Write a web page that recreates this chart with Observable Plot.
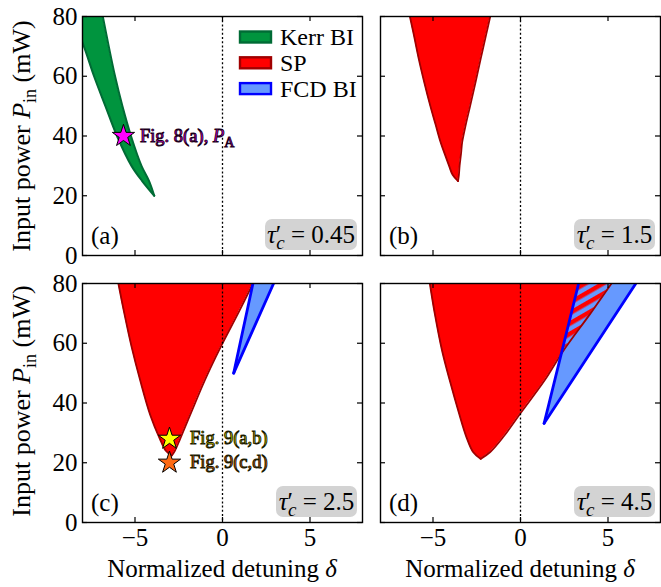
<!DOCTYPE html>
<html><head><meta charset="utf-8">
<script src="https://cdn.jsdelivr.net/npm/d3@7"></script>
<script src="https://cdn.jsdelivr.net/npm/@observablehq/plot@0.6"></script>
<style>
body{margin:0;background:#fff;}
#wrap{position:relative;width:661px;height:587px;overflow:hidden;font-family:"Liberation Serif","Times New Roman",Times,"DejaVu Serif",serif;}
#wrap > svg{position:absolute;}
#wrap svg, #wrap svg text{font-family:"Liberation Serif","Times New Roman",Times,"DejaVu Serif",serif !important;}
</style></head><body><div id="wrap"></div>
<script>
// ---------- data ----------
const xTicks = [-5, 0, 5];
const yTicks = [0, 20, 40, 60, 80];

// (a) Kerr bistability band, tau'c = 0.45
const kerrP     = [20, 25, 30, 40, 50, 60, 70, 80];
const kerrLeft  = [-3.9, -4.6, -5.2, -6.03, -6.69, -7.34, -7.92, -8.6];
const kerrRight = [-3.9, -4.2, -4.63, -5.23, -5.72, -6.14, -6.5, -6.84];

// (b) self-pulsing, tau'c = 1.5
const spBP     = [24.9, 27, 30, 34, 38, 44, 50, 58, 66, 74, 80];
const spBLeft  = [-3.57, -3.88, -4.08, -4.33, -4.57, -4.86, -5.15, -5.5, -5.82, -6.1, -6.32];
const spBRight = [-3.57, -3.52, -3.48, -3.40, -3.33, -3.12, -2.88, -2.57, -2.27, -1.96, -1.73];

// (c) self-pulsing + FCD bistability, tau'c = 2.5
const spCP     = [22.4, 24, 28, 36, 47.5, 58.7, 70, 80];
const spCLeft  = [-2.9, -3.24, -3.58, -4.13, -4.70, -5.19, -5.61, -5.95];
const spCRight = [-2.9, -2.72, -2.42, -1.85, -1.02, -0.11, 0.89, 1.74];
const fcdCP     = [50, 80];
const fcdCLeft  = [0.64, 1.74];
const fcdCRight = [0.64, 2.92];

// (d) self-pulsing + FCD bistability, tau'c = 4.5
const spDP     = [21.3, 23.6, 28.6, 36.9, 47.5, 57.5, 70, 80];
const spDLeft  = [-2.28, -2.71, -3.09, -3.53, -4.04, -4.48, -4.9, -5.18];
const spDRight = [-2.28, -1.73, -0.99, 0.04, 1.37, 2.45, 4.0, 5.2];
const fcdDP     = [33.2, 80];
const fcdDLeft  = [1.35, 3.32];
const fcdDRight = [1.35, 6.59];
const overlapDP     = [57.5, 63, 70, 80];
const overlapDLeft  = [2.42, 2.62, 2.9, 3.32];
const overlapDRight = [2.42, 3.13, 4.0, 5.2];

// marked operating points
const starsA = [{d: -5.66, P: 40, fill: "#ff00ff", label: "Fig. 8(a), ", sub: "A"}];
const starsC = [
  {d: -3.03, P: 28, fill: "#ffff00", label: "Fig. 9(a,b)"},
  {d: -3.03, P: 20, fill: "#ff6a13", label: "Fig. 9(c,d)"}
];
const tauLabels = ["0.45", "1.5", "2.5", "4.5"];
const panelLetters = ["(a)", "(b)", "(c)", "(d)"];
const legendItems = [
  {name: "Kerr BI", fill: "#00943e", stroke: "#006b35"},
  {name: "SP", fill: "#ff0000", stroke: "#a00000"},
  {name: "FCD BI", fill: "#6699ff", stroke: "#0000ff"}
];

// ---------- helpers ----------
const rows = (P, a, b) => P.map((p, i) => ({P: p, x1: a[i], x2: b[i]}));
const C = {
  kerr: "#00943e", kerrEdge: "#006b35",
  sp: "#ff0000", spEdge: "#a00000",
  fcd: "#6699ff", fcdEdge: "#0000ff"
};
const FONT = "'Liberation Serif','Times New Roman',Times,'DejaVu Serif',serif";
const wrap = document.getElementById("wrap");

function region(data, fill, edge, ew, curve, extra = {}) {
  return [
    Plot.areaX(data, {y: "P", x1: "x1", x2: "x2", fill, curve, clip: true, ...extra}),
    Plot.lineX(data, {y: "P", x: "x1", stroke: edge, strokeWidth: ew, curve, clip: true}),
    Plot.lineX(data, {y: "P", x: "x2", stroke: edge, strokeWidth: ew, curve, clip: true})
  ];
}

function addText(svg, x, y, spans, o = {}) {
  const t = d3.select(svg).append("text")
    .attr("x", x).attr("y", y)
    .style("font-family", FONT).attr("font-size", o.size || 25)
    .attr("fill", o.fill || "black")
    .attr("text-anchor", o.anchor || "start");
  if (o.transform) t.attr("transform", o.transform);
  if (o.stroke) t.attr("stroke", o.stroke).attr("stroke-width", o.sw || 1);
  for (const s of spans) {
    const ts = t.append("tspan").text(s.t);
    if (s.i) ts.attr("font-style", "italic");
    if (s.dy) ts.attr("dy", s.dy);
    if (s.dx) ts.attr("dx", s.dx);
    if (s.size) ts.attr("font-size", s.size);
  }
  return t;
}

function panel(cfg) {
  const {left, top, width, height, mL, mR, mT, mB, showX, showY, marks} = cfg;
  const pw = width - mL - mR, ph = height - mT - mB;
  const m = [
    ...marks,
    Plot.ruleX([0], {stroke: "black", strokeWidth: 1.3, strokeDasharray: "2,2.2"}),
    Plot.tickX(xTicks, {x: d => d, insetTop: ph - 5, stroke: "black", strokeWidth: 1.2}),
    Plot.tickX(xTicks, {x: d => d, insetBottom: ph - 5, stroke: "black", strokeWidth: 1.2}),
    Plot.tickY(yTicks, {y: d => d, insetRight: pw - 5, stroke: "black", strokeWidth: 1.2}),
    Plot.tickY(yTicks, {y: d => d, insetLeft: pw - 5, stroke: "black", strokeWidth: 1.2}),
    Plot.frame({stroke: "black", strokeWidth: 1.4})
  ];
  if (showX) m.push(Plot.axisX(xTicks, {tickSize: 0, tickPadding: 6, label: null, fontSize: 25}));
  if (showY) m.push(Plot.axisY(yTicks, {tickSize: 0, tickPadding: 5, label: null, fontSize: 25}));
  const p = Plot.plot({
    width, height,
    marginLeft: mL, marginRight: mR, marginTop: mT, marginBottom: mB,
    x: {domain: [-8, 8], axis: showX ? undefined : null},
    y: {domain: [0, 80], axis: showY ? undefined : null},
    style: {fontFamily: FONT, fontSize: "25px", background: "transparent", overflow: "visible", color: "black"},
    marks: m
  });
  p.style.left = left + "px";
  p.style.top = top + "px";
  wrap.appendChild(p);
  return {svg: p, x: v => p.scale("x").apply(v), y: v => p.scale("y").apply(v), pw, ph, mL, mT};
}

function tauBox(P, label, boxW) {
  const right = P.mL + P.pw - 5, bottom = P.mT + P.ph - 5;
  d3.select(P.svg).append("rect")
    .attr("x", right - boxW).attr("y", bottom - 31).attr("width", boxW).attr("height", 31)
    .attr("rx", 7).attr("fill", "#d3d3d3");
  addText(P.svg, right - boxW / 2, bottom - 7, [
    {t: "τ", i: true}, {t: "′"}, {t: "c", i: true, dx: -5, dy: 6, size: 19},
    {t: " = " + label, dy: -6}
  ], {anchor: "middle", size: 25});
}

function letter(P, s) {
  addText(P.svg, P.mL + 9, P.mT + P.ph - 11, [{t: s}], {size: 25});
}

// ---------- panels ----------
const A = panel({
  left: 0, top: 0, width: 370, height: 270, mL: 82, mR: 8, mT: 16, mB: 15, showX: false, showY: true,
  marks: [
    ...region(rows(kerrP, kerrLeft, kerrRight), C.kerr, C.kerrEdge, 2, "catmull-rom"),
    Plot.dot(starsA, {x: "d", y: "P", symbol: "star", r: 7, fill: "fill", stroke: "black", strokeWidth: 1})
  ]
});
const B = panel({
  left: 370, top: 0, width: 291, height: 270, mL: 10, mR: 1, mT: 16, mB: 15, showX: false, showY: false,
  marks: [...region(rows(spBP, spBLeft, spBRight), C.sp, C.spEdge, 1.8, "catmull-rom")]
});
const Cp = panel({
  left: 0, top: 270, width: 370, height: 317, mL: 82, mR: 8, mT: 13, mB: 65, showX: true, showY: true,
  marks: [
    ...region(rows(spCP, spCLeft, spCRight), C.sp, C.spEdge, 1.8, "catmull-rom"),
    ...region(rows(fcdCP, fcdCLeft, fcdCRight), C.fcd, C.fcdEdge, 2.8, "linear"),
    Plot.dot(starsC, {x: "d", y: "P", symbol: "star", r: 7, fill: "fill", stroke: "black", strokeWidth: 1})
  ]
});
const D = panel({
  left: 370, top: 270, width: 291, height: 317, mL: 10, mR: 1, mT: 13, mB: 65, showX: true, showY: false,
  marks: [
    Plot.areaX(rows(spDP, spDLeft, spDRight), {y: "P", x1: "x1", x2: "x2", fill: C.sp, curve: "catmull-rom", clip: true}),
    Plot.areaX(rows(fcdDP, fcdDLeft, fcdDRight), {y: "P", x1: "x1", x2: "x2", fill: C.fcd, clip: true}),
    Plot.areaX(rows(overlapDP, overlapDLeft, overlapDRight), {y: "P", x1: "x1", x2: "x2", fill: C.fcd, curve: "catmull-rom", clip: true, className: "hatched"}),
    Plot.lineX(rows(spDP, spDLeft, spDRight), {y: "P", x: "x1", stroke: C.spEdge, strokeWidth: 1.8, curve: "catmull-rom", clip: true}),
    Plot.lineX(rows(spDP, spDLeft, spDRight), {y: "P", x: "x2", stroke: C.spEdge, strokeWidth: 1.8, curve: "catmull-rom", clip: true}),
    Plot.lineX(rows(fcdDP, fcdDLeft, fcdDRight), {y: "P", x: "x1", stroke: C.fcdEdge, strokeWidth: 2.8, clip: true}),
    Plot.lineX(rows(fcdDP, fcdDLeft, fcdDRight), {y: "P", x: "x2", stroke: C.fcdEdge, strokeWidth: 2.8, clip: true})
  ]
});

// hatch pattern for the SP/FCD overlap
{
  const defs = d3.select(D.svg).insert("defs", ":first-child");
  const pat = defs.append("pattern").attr("id", "hatchSPFCD")
    .attr("patternUnits", "userSpaceOnUse").attr("width", 9).attr("height", 9)
    .attr("patternTransform", "rotate(-30)");
  pat.append("rect").attr("width", 9).attr("height", 9).attr("fill", C.fcd);
  pat.append("rect").attr("width", 9).attr("height", 4.5).attr("fill", C.sp);
  d3.select(D.svg).selectAll(".hatched path").attr("fill", "url(#hatchSPFCD)");
  d3.select(D.svg).selectAll("g.hatched").attr("fill", "url(#hatchSPFCD)");
}

// letters + tau boxes
[A, B, Cp, D].forEach((P, i) => {
  letter(P, panelLetters[i]);
  tauBox(P, tauLabels[i], i === 0 ? 92 : 81);
});

// legend in (a)
legendItems.forEach((it, i) => {
  const cy = 37 + i * 25.8;
  d3.select(A.svg).append("rect").attr("x", 240).attr("y", cy - 5.5).attr("width", 31).attr("height", 11)
    .attr("fill", it.fill).attr("stroke", it.stroke).attr("stroke-width", 2.4);
  addText(A.svg, 280, cy + 8, [{t: it.name}], {size: 24});
});

// star annotations
starsA.forEach(s => {
  addText(A.svg, A.x(s.d) + 17, A.y(s.P) + 6, [
    {t: s.label}, {t: "P", i: true}, {t: s.sub, dy: 5, size: 14}
  ], {size: 18.5, fill: s.fill, stroke: "#1a001a", sw: 1});
});
starsC.forEach(s => {
  addText(Cp.svg, Cp.x(s.d) + 21, Cp.y(s.P) + 6, [{t: s.label}],
    {size: 18.5, fill: s.fill, stroke: "#1a1a00", sw: 1});
});

// axis titles
[[A, 136], [Cp, 131]].forEach(([P, cy]) => {
  addText(P.svg, 0, 0, [
    {t: "Input power "}, {t: "P", i: true}, {t: "in", dy: 6, size: 18}, {t: " (mW)", dy: -6}
  ], {anchor: "middle", size: 26, transform: `translate(30,${cy}) rotate(-90)`});
});
[[Cp, 222], [D, 150]].forEach(([P, cx]) => {
  addText(P.svg, cx, 307, [{t: "Normalized detuning "}, {t: "δ", i: true}], {anchor: "middle", size: 25});
});
</script></body></html>
